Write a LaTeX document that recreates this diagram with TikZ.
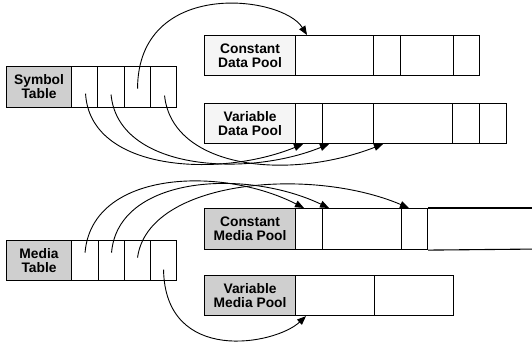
\documentclass[tikz,border=0pt]{standalone}
\usepackage{fontspec}
\setmainfont{Liberation Sans}
\usetikzlibrary{arrows.meta,calc}

\tikzset{
  box/.style={draw=black, line width=1.1pt, anchor=north west, inner sep=0pt,
    minimum height=#1, font=\bfseries\fontsize{13.8}{14}\selectfont, align=center},
  cell/.style={box=#1, fill=white},
  lightlbl/.style={fill=gray!8},
  darklbl/.style={fill=gray!38},
  link/.style={line width=0.9pt, -{Triangle[length=9pt,width=7pt]}},
}

\begin{document}
\begin{tikzpicture}[x=1pt, y=-1pt]
\useasboundingbox (0,0) rectangle (532,343);

% Symbol Table
\node[box=41, darklbl, minimum width=65] (stl) at (6,66) {Symbol\\Table};
\node[cell=41, minimum width=26] (st1) at (71,66) {};
\node[cell=41, minimum width=27] (st2) at (97,66) {};
\node[cell=41, minimum width=26] (st3) at (124,66) {};
\node[cell=41, minimum width=26] (st4) at (150,66) {};

% Constant Data Pool
\node[box=40, lightlbl, minimum width=91] (cdl) at (204,35) {Constant\\Data Pool};
\node[cell=40, minimum width=78] (cd1) at (295,35) {};
\node[cell=40, minimum width=27] (cd2) at (373,35) {};
\node[cell=40, minimum width=53] (cd3) at (400,35) {};
\node[cell=40, minimum width=26] (cd4) at (453,35) {};

% Variable Data Pool
\node[box=40, lightlbl, minimum width=91] (vdl) at (204,103) {Variable\\Data Pool};
\node[cell=40, minimum width=27] (vd1) at (295,103) {};
\node[cell=40, minimum width=51] (vd2) at (322,103) {};
\node[cell=40, minimum width=79] (vd3) at (373,103) {};
\node[cell=40, minimum width=27] (vd4) at (452,103) {};
\node[cell=40, minimum width=27] (vd5) at (479,103) {};

% Media Table
\node[box=40, darklbl, minimum width=65] (mtl) at (6,240) {Media\\Table};
\node[cell=40, minimum width=27] (mt1) at (71,240) {};
\node[cell=40, minimum width=26] (mt2) at (98,240) {};
\node[cell=40, minimum width=26] (mt3) at (124,240) {};
\node[cell=40, minimum width=26] (mt4) at (150,240) {};

% Constant Media Pool (runs on past the right edge)
\node[box=41, darklbl, minimum width=91] (cml) at (204,208) {Constant\\Media Pool};
\node[cell=41, minimum width=27] (cm1) at (295,208) {};
\node[cell=41, minimum width=79] (cm2) at (322,208) {};
\node[cell=41, minimum width=26] (cm3) at (401,208) {};
\coordinate (cmtop) at (540,208);
\coordinate (cmbot) at (540,249);
\draw[line width=1.1pt] (cm3.north east) -- (cmtop);
\draw[line width=1.1pt] (cm3.south east) -- (cmbot);

% Variable Media Pool
\node[box=40, darklbl, minimum width=91] (vml) at (204,275) {Variable\\Media Pool};
\node[cell=40, minimum width=79] (vm1) at (295,275) {};
\node[cell=40, minimum width=79] (vm2) at (374,275) {};

% symbol table entries -> data pools
\draw[link] ($(st3.center)+(0,1.5)$) .. controls (138,-22) and (282,-5) .. ($(cd1.north west)+(12,0)$);
\draw[link] ($(st1.center)+(1,6.5)$) .. controls (90,172) and (220,178) .. ($(vd1.south west)+(8,0)$);
\draw[link] ($(st2.center)+(0,7.5)$) .. controls (118,170) and (245,178) .. ($(vd2.south west)+(7,0)$);
\draw[link] ($(st4.center)+(1,8.5)$) .. controls (172,167) and (285,182) .. ($(vd3.south west)+(10,0)$);

% media table entries -> media pools
\draw[link] ($(mt1.center)+(0,-8)$) .. controls (92,170) and (222,166) .. ($(cm1.north west)+(9,0)$);
\draw[link] ($(mt2.center)+(0,-8)$) .. controls (118,176) and (245,168) .. ($(cm2.north west)+(7,0)$);
\draw[link] ($(mt3.center)+(0,-3)$) .. controls (148,180) and (310,166) .. ($(cm3.north west)+(8,0)$);
\draw[link] ($(mt4.center)+(0,9)$) .. controls (165,365) and (275,345) .. ($(vm1.south west)+(11,0)$);
\end{tikzpicture}
\end{document}
